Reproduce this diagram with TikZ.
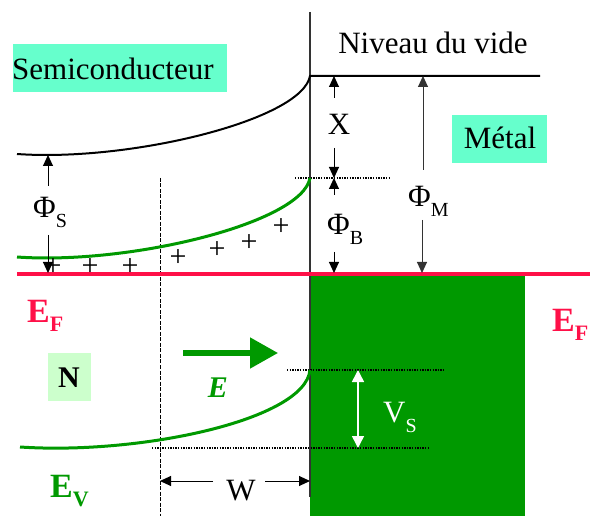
\documentclass[tikz,border=0pt]{standalone}
\usepackage{fontspec}
\setmainfont{Liberation Serif}
\usetikzlibrary{arrows.meta}
\definecolor{aquabox}{RGB}{102,255,204}
\definecolor{nbox}{RGB}{204,255,204}
\definecolor{efred}{RGB}{255,16,72}
\definecolor{dgreen}{RGB}{0,153,0}
\newcommand\sbs[1]{\raisebox{-10pt}{\fontsize{20}{20}\selectfont #1}}
\newcommand\sbb[1]{\raisebox{-9pt}{\fontsize{22}{22}\selectfont\bfseries #1}}
\begin{document}
\begin{tikzpicture}[x=1pt,y=-1pt,
  lbl/.style={font=\fontsize{31}{36}\selectfont, inner sep=0pt},
  blbl/.style={font=\fontsize{34}{40}\selectfont\bfseries, inner sep=0pt},
  dimarrow/.style={line width=1pt, -{Triangle[length=11pt,width=10pt]}},
  dotline/.style={line width=1.2pt, dash pattern=on 1.3pt off 1.3pt},
  band/.style={line width=3pt},
  plus/.style={font=\fontsize{30}{30}\selectfont, inner sep=0pt}]
\useasboundingbox (0,0) rectangle (590,516);
% metal
\fill[dgreen] (310,274) rectangle (525,516);
% label boxes
\fill[aquabox] (13,44) rectangle (227,92);
\fill[aquabox] (452,115) rectangle (547,163);
\fill[nbox] (48,353) rectangle (91,401);
% interface and depletion edge
\draw[line width=1.2pt, black!80] (310,12) -- (310,497);
\draw[line width=1pt, dash pattern=on 4pt off 1.5pt] (160,178) -- (160,516);
% dotted reference lines
\draw[dotline] (295,178) -- (390,178);
\draw[dotline] (287,370) -- (445,370);
\draw[dotline] (152,448) -- (430,448);
% Fermi level
\draw[efred, line width=3.5pt] (17,274) -- (590,274);
% vacuum level
\draw[line width=2pt] (17,154) .. controls (130,162) and (302,120) .. (310,76) -- (540,76);
% conduction band
\draw[band, dgreen] (17,257) .. controls (130,265) and (302,223) .. (310,178);
% valence band
\draw[band, dgreen] (20,447) .. controls (140,455) and (305,420) .. (310,370);
% charges
\foreach \px/\py [count=\i] in {53/267,90/267,130/267,178/258,217/250,249/243,281/227}
  \node[plus] (p\i) at (\px,\py) {+};
% coordinates for dimension arrows
\coordinate (s1) at (48,186); \coordinate (s1t) at (48,155);
\coordinate (s2) at (48,235); \coordinate (s2t) at (48,273);
\coordinate (x1) at (334,98); \coordinate (x1t) at (334,76);
\coordinate (x2) at (334,148); \coordinate (x2t) at (334,178);
\coordinate (b1) at (334,195); \coordinate (b1t) at (334,178);
\coordinate (b2) at (334,252); \coordinate (b2t) at (334,273);
\coordinate (m1) at (423,170); \coordinate (m1t) at (423,76);
\coordinate (m2) at (422,220); \coordinate (m2t) at (422,273);
\coordinate (w1) at (213,481); \coordinate (w1t) at (160,481);
\coordinate (w2) at (265,481); \coordinate (w2t) at (310,481);
\coordinate (v1) at (358,370); \coordinate (v2) at (358,448);
\coordinate (e1) at (183,353); \coordinate (e2) at (278,353);
\draw[dimarrow] (s1) -- (s1t);
\draw[dimarrow] (s2) -- (s2t);
\draw[dimarrow] (x1) -- (x1t);
\draw[dimarrow] (x2) -- (x2t);
\draw[dimarrow] (b1) -- (b1t);
\draw[dimarrow] (b2) -- (b2t);
\draw[dimarrow, black!80] (m1) -- (m1t);
\draw[dimarrow, black!80] (m2) -- (m2t);
\draw[dimarrow] (w1) -- (w1t);
\draw[dimarrow] (w2) -- (w2t);
\draw[white, line width=1.5pt, {Triangle[length=12pt,width=12pt]}-{Triangle[length=12pt,width=12pt]}] (v1) -- (v2);
\draw[dgreen, line width=5pt, -{Triangle[length=28pt,width=30pt]}] (e1) -- (e2);
% labels
\node[lbl, anchor=base west] (semi) at (12,80) {Semiconducteur};
\node[lbl, anchor=base] (vide) at (433,54) {Niveau du vide};
\node[lbl, anchor=base] (metal) at (500,149) {Métal};
\node[lbl, anchor=base] (xl) at (339,135) {X};
\node[lbl, anchor=base west] (phib) at (327,235) {Φ\sbs{B}};
\node[lbl, anchor=base west] (phim) at (408,207) {Φ\sbs{M}};
\node[lbl, anchor=base west] (phis) at (33,218) {Φ\sbs{S}};
\node[lbl, anchor=base] (wl) at (241,500) {W};
\node[lbl, anchor=base west, text=white] (vs) at (383,422) {V\sbs{S}};
\node[blbl, anchor=base west, text=efred] (efl) at (27,323) {E\sbb{F}};
\node[blbl, anchor=base west, text=efred] (efr) at (552,332) {E\sbb{F}};
\node[blbl, anchor=base west, text=dgreen] (ev) at (50,497) {E\sbb{V}};
\node[lbl, anchor=base, font=\fontsize{30}{36}\selectfont\bfseries] (nl) at (69,388) {N};
\node[lbl, anchor=base, text=dgreen, font=\fontsize{30}{36}\selectfont\bfseries\itshape] (el) at (218,397) {E};
\end{tikzpicture}
\end{document}
